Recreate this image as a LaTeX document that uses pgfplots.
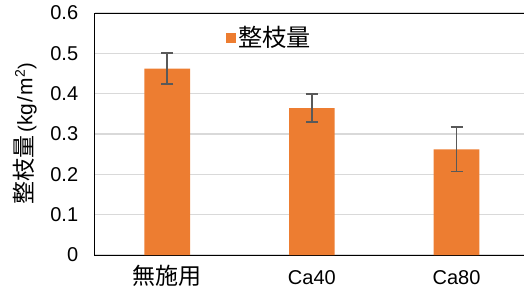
\documentclass[border=0pt]{standalone}
\usepackage{pgfplots}
\pgfplotsset{compat=1.18}
\usepackage{fontspec}
\setmainfont{Liberation Sans}
\newfontfamily\cjk[Scale=1.15]{Noto Sans CJK JP}
\definecolor{barorange}{HTML}{ED7D31}
\definecolor{errgray}{HTML}{595959}
\definecolor{gridgray}{HTML}{D9D9D9}
\begin{document}
\fontsize{20bp}{24bp}\selectfont
\begin{tikzpicture}
\useasboundingbox (-95bp,-39bp) rectangle (429bp,255bp);
\begin{axis}[
  scale only axis,
  width=433.8bp, height=242bp,
  xmin=-0.5, xmax=2.5,
  ymin=0, ymax=0.6,
  ytick={0,0.1,0.2,0.3,0.4,0.5,0.6},
  xtick={0,1,2},
  xticklabels={{\cjk 無施用},Ca40,Ca80},
  major tick length=0pt,
  ymajorgrids,
  grid style={gridgray, line width=1.5bp},
  axis line style={black, line width=1bp},
  /pgf/number format/assume math mode=true,
  tick label style={font=\fontsize{20bp}{24bp}\selectfont},
  xticklabel style={text height=15bp, text depth=4bp, yshift=-8bp},
  yticklabel style={xshift=-10bp},
  ylabel={{\cjk 整枝量}\,({\fontsize{21bp}{24bp}\selectfont k\kern0.5bp g\kern1bp/\kern1bp m}\textsuperscript{2})},
  ylabel style={at={(axis description cs:-0.1614,0.5)}, anchor=center, font=\fontsize{20bp}{24bp}\selectfont},
  legend style={draw=none, fill=none, inner sep=0pt, outer sep=0pt,
    at={(axis description cs:0.302,0.897)}, anchor=west,
    font=\fontsize{21bp}{24bp}\selectfont},
  legend image code/.code={\fill[barorange] (0bp,-5bp) rectangle (10bp,5bp);},
]
\addplot[ybar, bar width=0.316, fill=barorange, draw=none,
  error bars/.cd, y dir=both, y explicit,
  error bar style={errgray, line width=1.7bp},
  error mark options={errgray, line width=1.7bp, mark size=6bp, rotate=90}]
  coordinates {(0,0.462) +- (0,0.038) (1,0.364) +- (0,0.035) (2,0.262) +- (0,0.055)};
\addlegendentry{\cjk 整枝量}
\end{axis}
\end{tikzpicture}
\end{document}
